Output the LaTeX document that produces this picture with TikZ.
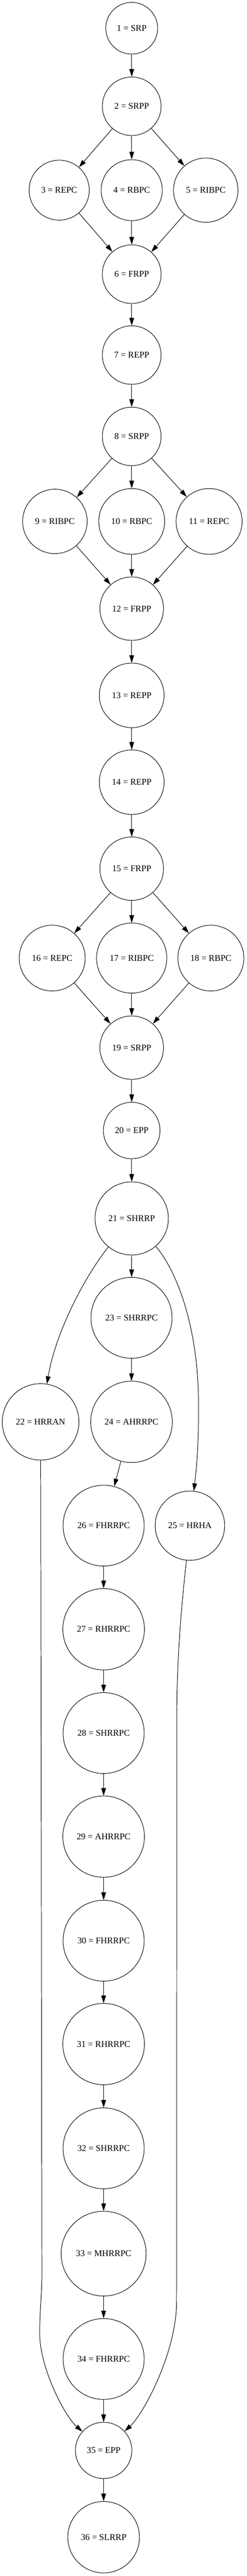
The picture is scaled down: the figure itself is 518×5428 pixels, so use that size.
\documentclass[tikz,border=0pt]{standalone}
\usepackage{fontspec}
\setmainfont{Liberation Serif}
\usetikzlibrary{arrows.meta}
\tikzset{
  gvn/.style={circle, draw, line width=0.8pt, inner sep=0pt, minimum size=#1*1.5pt,
    font=\fontsize{14pt}{16pt}\selectfont},
  edge/.style={line width=0.8pt, -{Triangle[length=12pt,width=7.5pt]}},
}
\begin{document}
\begin{tikzpicture}[x=0.75pt,y=-0.75pt]
\useasboundingbox (0,0) rectangle (518,5428);
\node[gvn=54.5] (n1) at (276.7,59.5) {1 = SRP};
\node[gvn=61.7] (n2) at (276.7,223.9) {2 = SRPP};
\node[gvn=63.2] (n3) at (124.3,400.7) {3 = REPC};
\node[gvn=64.2] (n4) at (276.7,400.7) {4 = RBPC};
\node[gvn=67.7] (n5) at (432.3,400.7) {5 = RIBPC};
\node[gvn=61.8] (n6) at (276.7,577.7) {6 = FRPP};
\node[gvn=61.7] (n7) at (276.7,748.2) {7 = REPP};
\node[gvn=61.7] (n8) at (276.7,919.6) {8 = SRPP};
\node[gvn=67.8] (n9) at (115.3,1098.7) {9 = RIBPC};
\node[gvn=69.2] (n10) at (276.7,1098.7) {10 = RBPC};
\node[gvn=69.3] (n11) at (439.3,1098.7) {11 = REPC};
\node[gvn=66.8] (n12) at (276.7,1282.6) {12 = FRPP};
\node[gvn=68] (n13) at (276.7,1465.2) {13 = REPP};
\node[gvn=68] (n14) at (276.7,1648.2) {14 = REPP};
\node[gvn=66.8] (n15) at (276.7,1830.4) {15 = FRPP};
\node[gvn=69.3] (n16) at (109.7,2018.8) {16 = REPC};
\node[gvn=73.8] (n17) at (276.7,2018.8) {17 = RIBPC};
\node[gvn=69.3] (n18) at (443,2018.8) {18 = RBPC};
\node[gvn=66.8] (n19) at (276.7,2207.6) {19 = SRPP};
\node[gvn=59.5] (n20) at (276.7,2382.1) {20 = EPP};
\node[gvn=77] (n21) at (276.7,2567.4) {21 = SHRRP};
\node[gvn=85.2] (n23) at (276.3,2776.8) {23 = SHRRPC};
\node[gvn=80.5] (n22) at (85.3,2996) {22 = HRRAN};
\node[gvn=85.7] (n24) at (276.3,2996) {24 = AHRRPC};
\node[gvn=85.2] (n26) at (217.7,3214.7) {26 = FHRRPC};
\node[gvn=73] (n25) at (399,3214.7) {25 = HRHA};
\node[gvn=85.7] (n27) at (217.7,3433) {27 = RHRRPC};
\node[gvn=85.2] (n28) at (217.7,3651.8) {28 = SHRRPC};
\node[gvn=85.7] (n29) at (217.7,3870) {29 = AHRRPC};
\node[gvn=85.2] (n30) at (217.7,4089.3) {30 = FHRRPC};
\node[gvn=85.7] (n31) at (217.7,4307.1) {31 = RHRRPC};
\node[gvn=85.2] (n32) at (217.7,4526.8) {32 = SHRRPC};
\node[gvn=89.3] (n33) at (217.7,4748.7) {33 = MHRRPC};
\node[gvn=85.2] (n34) at (217.7,4970.7) {34 = FHRRPC};
\node[gvn=59.3] (n35) at (217.7,5163.3) {35 = EPP};
\node[gvn=75.3] (n36) at (217.7,5346.2) {36 = SLRRP};
% waypoints
\coordinate (w1) at (417,2950);
\coordinate (l1) at (88,4790);
\coordinate (l2) at (83.5,4920);
\coordinate (r1) at (371.5,3600);
\coordinate (r2) at (371,4850);
% edges
\draw[edge] (n1) -- (n2);
\draw[edge] (n2) -- (n3);
\draw[edge] (n2) -- (n4);
\draw[edge] (n2) -- (n5);
\draw[edge] (n3) -- (n6);
\draw[edge] (n4) -- (n6);
\draw[edge] (n5) -- (n6);
\draw[edge] (n6) -- (n7);
\draw[edge] (n7) -- (n8);
\draw[edge] (n8) -- (n9);
\draw[edge] (n8) -- (n10);
\draw[edge] (n8) -- (n11);
\draw[edge] (n9) -- (n12);
\draw[edge] (n10) -- (n12);
\draw[edge] (n11) -- (n12);
\draw[edge] (n12) -- (n13);
\draw[edge] (n13) -- (n14);
\draw[edge] (n14) -- (n15);
\draw[edge] (n15) -- (n16);
\draw[edge] (n15) -- (n17);
\draw[edge] (n15) -- (n18);
\draw[edge] (n16) -- (n19);
\draw[edge] (n17) -- (n19);
\draw[edge] (n18) -- (n19);
\draw[edge] (n19) -- (n20);
\draw[edge] (n20) -- (n21);
\draw[edge] (n21) .. controls (185,2680) and (118,2800) .. (n22);
\draw[edge] (n21) -- (n23);
\draw[edge] (n21) .. controls (365,2670) and (415,2780) .. (w1)
  .. controls (418,3050) and (412,3100) .. (n25);
\draw[edge] (n23) -- (n24);
\draw[edge] (n24) -- (n26);
\draw[edge] (n26) -- (n27);
\draw[edge] (n27) -- (n28);
\draw[edge] (n28) -- (n29);
\draw[edge] (n29) -- (n30);
\draw[edge] (n30) -- (n31);
\draw[edge] (n31) -- (n32);
\draw[edge] (n32) -- (n33);
\draw[edge] (n33) -- (n34);
\draw[edge] (n34) -- (n35);
\draw[edge] (n22) -- (l1) .. controls (88.3,4830) and (83,4870) .. (l2)
  .. controls (84.5,4990) and (135,5090) .. (n35);
\draw[edge] (n25) .. controls (389,3315) and (372.5,3450) .. (r1) -- (r2)
  .. controls (370.5,4960) and (300,5088) .. (n35);
\draw[edge] (n35) -- (n36);
\end{tikzpicture}
\end{document}
